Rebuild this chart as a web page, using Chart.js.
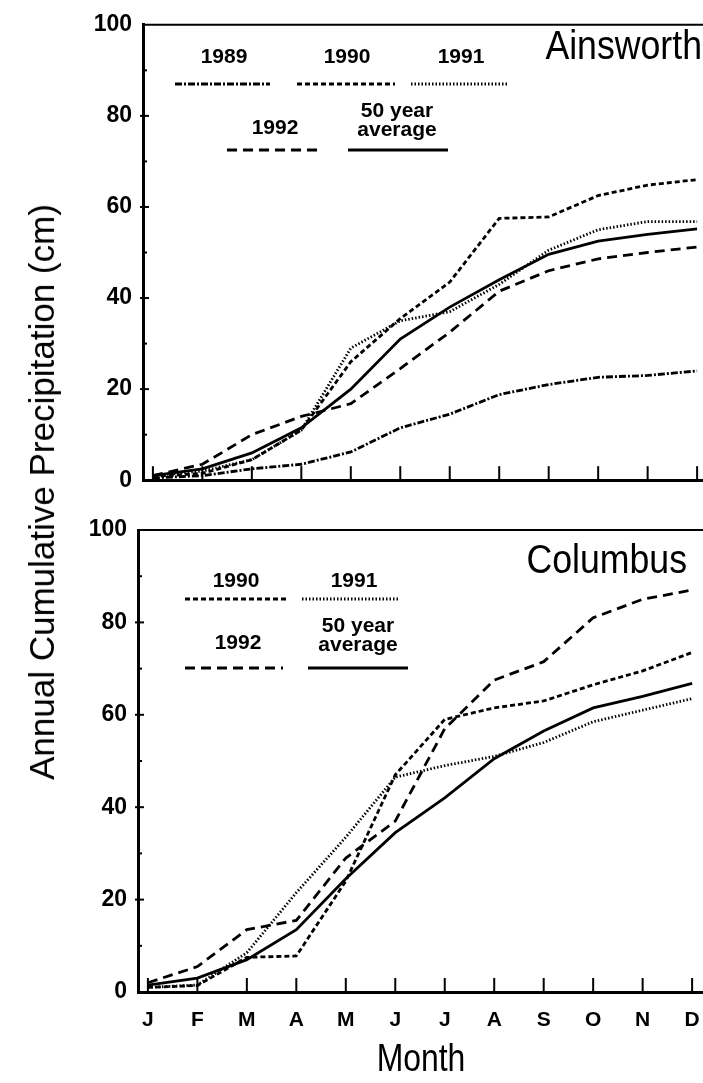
<!DOCTYPE html>
<html>
<head>
<meta charset="utf-8">
<script src="https://cdn.jsdelivr.net/npm/chart.js@4.4.1/dist/chart.umd.min.js"></script>
<style>
html, body { margin: 0; padding: 0; background: #fff; overflow: hidden; }
body { width: 703px; height: 1083px; position: relative; font-family: "Liberation Sans", Arial, sans-serif; }
#top { position: absolute; left: 5px; top: 0; }
#bot { position: absolute; left: 0; top: 505px; }
#ytitle { position: absolute; left: 42px; top: 492px; transform: translate(-50%, -50%) rotate(-90deg);
          white-space: nowrap; font-size: 35px; color: #000; }
#xtitle { position: absolute; left: 421px; top: 1058px; transform: translate(-50%, -50%) scaleX(0.84);
          white-space: nowrap; font-size: 38px; color: #000; }
</style>
</head>
<body>
<div id="top"><canvas id="ainsworth" width="703" height="505"></canvas></div>
<div id="bot"><canvas id="columbus" width="703" height="578"></canvas></div>
<div id="ytitle">Annual Cumulative Precipitation (cm)</div>
<div id="xtitle">Month</div>
<script>
const months = ['J', 'F', 'M', 'A', 'M', 'J', 'J', 'A', 'S', 'O', 'N', 'D']
const yTicks = [0, 20, 40, 60, 80, 100]

// Ainsworth, cumulative cm at each month
const ains1989 = [0.5, 1.0, 2.5, 3.5, 6.2, 11.5, 14.5, 18.8, 21.0, 22.6, 23.0, 24.0]
const ains1990 = [0.8, 1.5, 4.5, 11.0, 26.0, 35.5, 43.5, 57.5, 57.8, 62.5, 64.8, 66.0]
const ains1991 = [1.0, 2.0, 4.5, 11.0, 29.0, 35.0, 37.0, 43.0, 50.5, 55.0, 56.8, 56.8]
const ains1992 = [1.0, 3.5, 10.0, 14.0, 16.8, 24.5, 32.5, 41.5, 46.0, 48.6, 50.0, 51.2]
const ainsAvg  = [1.0, 2.5, 6.0, 11.5, 20.0, 31.0, 38.0, 44.0, 49.6, 52.5, 54.0, 55.2]

// Columbus
const colu1990 = [1.0, 1.4, 7.5, 7.8, 24.0, 47.0, 59.0, 61.5, 63.0, 66.5, 69.5, 73.5]
const colu1991 = [1.0, 1.5, 8.5, 21.5, 33.5, 46.5, 49.0, 51.0, 54.0, 58.5, 61.0, 63.5]
const colu1992 = [2.0, 5.5, 13.5, 15.5, 29.0, 37.0, 57.0, 67.5, 71.5, 81.0, 85.0, 87.0]
const coluAvg  = [1.5, 3.0, 7.0, 13.5, 24.5, 34.5, 42.0, 50.5, 56.5, 61.5, 64.0, 66.8]

const dashes = {
    '1989': [7, 2, 2, 2],
    '1990': [5, 3],
    '1991': [1.5, 2],
    '1992': [10, 6],
    '50 year average': []
}

Chart.defaults.font.family = '"Liberation Sans", Arial, sans-serif'
Chart.defaults.color = '#000'

const toPoints = (vals) => vals.map((v, i) => ({ x: i, y: v }))

const makeDataset = (name, vals) => ({
    label: name,
    data: toPoints(vals),
    borderColor: '#000',
    borderWidth: 2.8,
    borderDash: dashes[name],
    pointRadius: 0,
    tension: 0,
    fill: false
})

// frame line on top, inward ticks, station name and the in-plot legend
const panelDecor = {
    id: 'panelDecor',
    afterDraw(chart, args, opts) {
        const { ctx, chartArea: a, scales: { x, y } } = chart
        ctx.save()
        ctx.strokeStyle = '#000'
        ctx.lineWidth = 2
        ctx.beginPath()
        ctx.moveTo(a.left, a.top)
        ctx.lineTo(a.right, a.top)
        ctx.stroke()

        months.forEach((m, i) => {
            const px = x.getPixelForValue(i)
            ctx.beginPath()
            ctx.moveTo(px, a.bottom)
            ctx.lineTo(px, a.bottom - 14)
            ctx.stroke()
        })
        for (let v = 10; v < 100; v += 10) {
            const py = y.getPixelForValue(v)
            const major = v % 20 === 0
            ctx.beginPath()
            ctx.moveTo(a.left - (major ? 3 : 0), py)
            ctx.lineTo(a.left + (major ? 6 : 4), py)
            ctx.stroke()
        }

        // station name, slightly condensed like the scan
        ctx.fillStyle = '#000'
        ctx.font = '41px "Liberation Sans", Arial, sans-serif'
        ctx.textAlign = 'right'
        ctx.textBaseline = 'middle'
        ctx.save()
        ctx.translate(opts.stationX, opts.stationY)
        ctx.scale(0.87, 1)
        ctx.fillText(opts.station, 0, 0)
        ctx.restore()

        ctx.font = 'bold 21px "Liberation Sans", Arial, sans-serif'
        ctx.textAlign = 'center'
        for (const item of opts.legend) {
            const ds = chart.data.datasets.find(d => d.label === item.name)
            const lines = ds.label.split(/ (?=average)/)
            lines.forEach((t, k) => {
                ctx.fillText(t, item.cx, item.ty + (k - lines.length + 1) * 19)
            })
            ctx.lineWidth = ds.borderWidth
            ctx.setLineDash(ds.borderDash)
            ctx.beginPath()
            ctx.moveTo(item.x0, item.ly)
            ctx.lineTo(item.x1, item.ly)
            ctx.stroke()
            ctx.setLineDash([])
        }
        ctx.restore()
    }
}

const makeChart = (canvasId, datasets, showMonths, axisHeight, padTop, decor) => {
    const ctx = document.getElementById(canvasId).getContext('2d')
    return new Chart(ctx, {
        type: 'line',
        data: { datasets: datasets },
        options: {
            responsive: false,
            animation: false,
            layout: { padding: { top: padTop, right: 0, bottom: 0, left: 0 } },
            plugins: {
                legend: { display: false },
                tooltip: { enabled: false },
                panelDecor: decor
            },
            scales: {
                x: {
                    type: 'linear',
                    min: -0.2,
                    max: 11.22,
                    afterBuildTicks: (s) => { s.ticks = months.map((m, i) => ({ value: i })) },
                    afterFit: (s) => {
                        s.height = axisHeight
                        s.paddingLeft = 0
                        s.paddingRight = 0
                    },
                    grid: { display: false, drawTicks: false },
                    border: { display: true, width: 3, color: '#000' },
                    ticks: {
                        display: showMonths,
                        autoSkip: false,
                        maxRotation: 0,
                        padding: 16,
                        font: { size: 21, weight: 'bold' },
                        callback: (v) => months[v]
                    }
                },
                y: {
                    min: 0,
                    max: 100,
                    afterBuildTicks: (s) => { s.ticks = yTicks.map(v => ({ value: v })) },
                    afterFit: (s) => { s.width = 138 },
                    grid: { display: false, drawTicks: false },
                    border: { display: true, width: 3, color: '#000' },
                    ticks: { padding: 11, font: { size: 23, weight: 'bold' } }
                }
            }
        },
        plugins: [panelDecor]
    })
}

makeChart('ainsworth', [
    makeDataset('1989', ains1989),
    makeDataset('1990', ains1990),
    makeDataset('1991', ains1991),
    makeDataset('1992', ains1992),
    makeDataset('50 year average', ainsAvg)
], false, 22, 20, {
    station: 'Ainsworth', stationX: 697, stationY: 48,
    legend: [
        { name: '1989', cx: 219, ty: 57, x0: 170, x1: 265, ly: 84 },
        { name: '1990', cx: 342, ty: 57, x0: 292, x1: 390, ly: 84 },
        { name: '1991', cx: 456, ty: 57, x0: 406, x1: 502, ly: 84 },
        { name: '1992', cx: 270, ty: 128, x0: 222, x1: 317, ly: 150 },
        { name: '50 year average', cx: 392, ty: 130, x0: 343, x1: 443, ly: 150 }
    ]
})

makeChart('columbus', [
    makeDataset('1990', colu1990),
    makeDataset('1991', colu1991),
    makeDataset('1992', colu1992),
    makeDataset('50 year average', coluAvg)
], true, 91, 25, {
    station: 'Columbus', stationX: 687, stationY: 57,
    legend: [
        { name: '1990', cx: 236, ty: 76, x0: 185, x1: 287, ly: 94 },
        { name: '1991', cx: 354, ty: 76, x0: 302, x1: 398, ly: 94 },
        { name: '1992', cx: 238, ty: 138, x0: 185, x1: 283, ly: 163 },
        { name: '50 year average', cx: 358, ty: 140, x0: 308, x1: 408, ly: 163 }
    ]
})
</script>
</body>
</html>
